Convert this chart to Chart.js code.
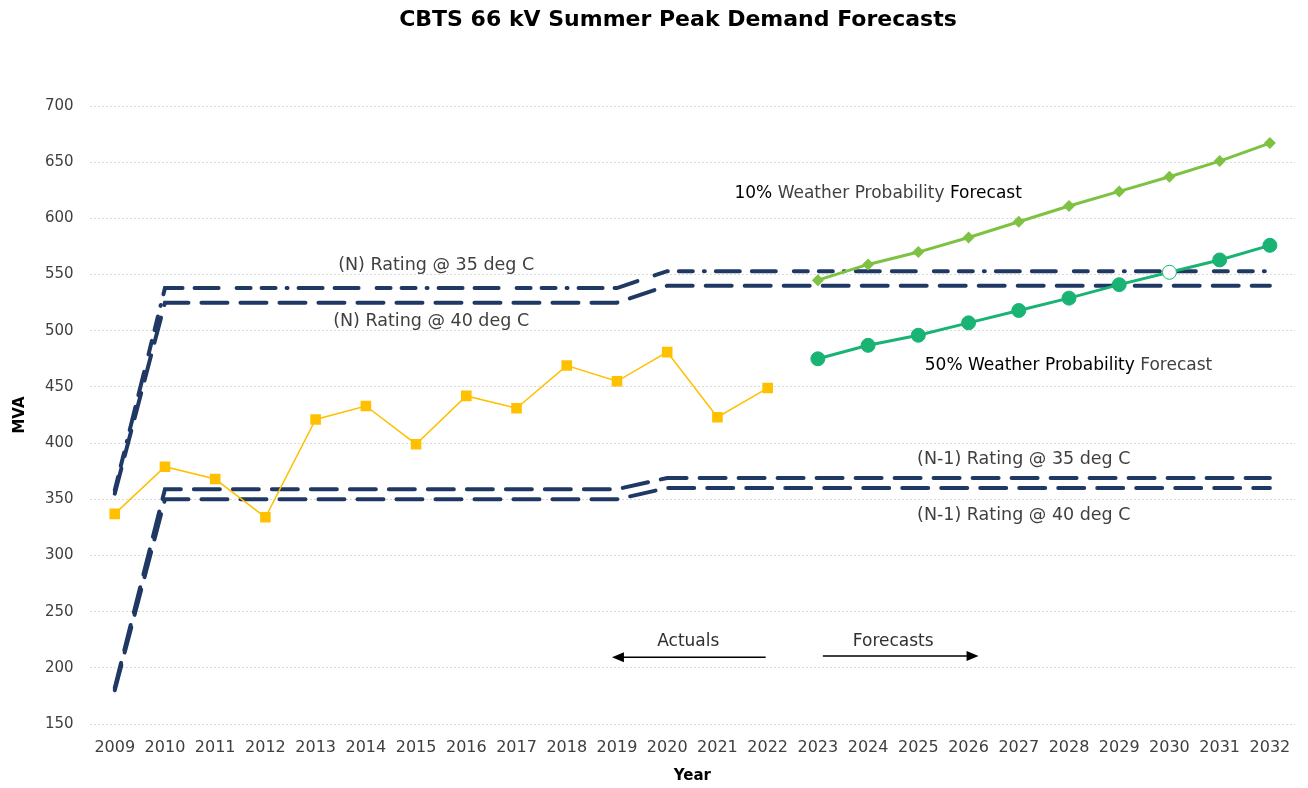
<!DOCTYPE html>
<html>
<head>
<meta charset="utf-8">
<script src="https://cdn.jsdelivr.net/npm/chart.js@4.4.1/dist/chart.umd.min.js"></script>
<style>
  html, body { margin: 0; padding: 0; background: #fff; }
  #wrap { width: 1308px; height: 788px; }
</style>
</head>
<body>
<div id="wrap"><canvas id="demandChart"></canvas></div>
<script>
const years = ['2009','2010','2011','2012','2013','2014','2015','2016','2017','2018','2019','2020',
  '2021','2022','2023','2024','2025','2026','2027','2028','2029','2030','2031','2032'];

// ratings (MVA)
const ratingN35 = [358,538,538,538,538,538,538,538,538,538,538,553,553,553,553,553,553,553,553,553,553,553,553,553];
const ratingN40 = [355,525,525,525,525,525,525,525,525,525,525,540,540,540,540,540,540,540,540,540,540,540,540,540];
const ratingN1_35 = [182,359,359,359,359,359,359,359,359,359,359,369,369,369,369,369,369,369,369,369,369,369,369,369];
const ratingN1_40 = [180,350,350,350,350,350,350,350,350,350,350,360,360,360,360,360,360,360,360,360,360,360,360,360];

// actual peak demand 2009-2022
const actuals = [337,379,368,334,421,433,399,442,431,469,455,481,423,449,
  null,null,null,null,null,null,null,null,null,null];

// forecasts 2023-2032
const poe10 = [null,null,null,null,null,null,null,null,null,null,null,null,null,null,
  545,559,570,583,597,611,624,637,651,667];
const poe50 = [null,null,null,null,null,null,null,null,null,null,null,null,null,null,
  475,487,496,507,518,529,541,552,563,576];

const yTicks = [150,200,250,300,350,400,450,500,550,600,650,700];

const navy = '#203864';
const FONT = '"DejaVu Sans", sans-serif';
const TITLE = 'CBTS 66 kV Summer Peak Demand Forecasts';

// text labels + arrows placed in data coordinates (x = category index)
const notes = [
  { x: 6.4, y: 558, size: 17.5, parts: [['(N) Rating @ 35 deg C', '#404040']] },
  { x: 6.3, y: 508, size: 17.5, parts: [['(N) Rating @ 40 deg C', '#404040']] },
  { x: 15.2, y: 622, size: 17, parts: [['10%', '#000'], [' Weather Probability ', '#404040'], ['Forecast', '#000']] },
  { x: 18.99, y: 469, size: 17, parts: [['50% Weather Probability', '#000'], [' Forecast', '#404040']] },
  { x: 18.1, y: 385, size: 17.5, parts: [['(N-1) Rating @ 35 deg C', '#404040']] },
  { x: 18.1, y: 336, size: 17.5, parts: [['(N-1) Rating @ 40 deg C', '#404040']] },
  { x: 11.42, y: 223, size: 17, parts: [['Actuals', '#303030']] },
  { x: 15.5, y: 223, size: 17, parts: [['Forecasts', '#303030']] }
];
const arrows = [
  { from: 12.96, to: 9.9, y: 209.5 },
  { from: 14.1, to: 17.2, y: 210.5 }
];

const notesPlugin = {
  id: 'notes',
  afterDatasetsDraw(chart) {
    const { ctx, scales: { x, y } } = chart;
    ctx.save();
    ctx.textBaseline = 'middle';

    // chart title (sits a little right of canvas centre, like the original)
    ctx.font = 'bold 22px ' + FONT;
    ctx.fillStyle = '#000';
    ctx.textAlign = 'center';
    ctx.fillText(TITLE, 678, 20);

    notes.forEach(n => {
      ctx.font = n.size + 'px ' + FONT;
      let total = 0;
      n.parts.forEach(p => { total += ctx.measureText(p[0]).width; });
      let px = x.getPixelForValue(n.x) - total / 2;
      const py = y.getPixelForValue(n.y);
      n.parts.forEach(p => {
        ctx.fillStyle = p[1];
        ctx.textAlign = 'left';
        ctx.fillText(p[0], px, py);
        px += ctx.measureText(p[0]).width;
      });
    });
    arrows.forEach(a => {
      const x0 = x.getPixelForValue(a.from), x1 = x.getPixelForValue(a.to);
      const py = y.getPixelForValue(a.y);
      const dir = Math.sign(x1 - x0);
      ctx.strokeStyle = '#000';
      ctx.fillStyle = '#000';
      ctx.lineWidth = 1.5;
      ctx.beginPath();
      ctx.moveTo(x0, py);
      ctx.lineTo(x1 - dir * 8, py);
      ctx.stroke();
      ctx.beginPath();
      ctx.moveTo(x1, py);
      ctx.lineTo(x1 - dir * 12, py - 5);
      ctx.lineTo(x1 - dir * 12, py + 5);
      ctx.closePath();
      ctx.fill();
    });
    ctx.restore();
  }
};

function ratingSet(label, data, dash) {
  return {
    label: label,
    data: data,
    borderColor: navy,
    backgroundColor: navy,
    borderWidth: 4,
    borderDash: dash,
    borderCapStyle: 'round',
    pointRadius: 0,
    tension: 0,
    order: 5
  };
}

const poe50Fill = poe50.map((v, i) => years[i] === '2030' ? '#ffffff' : '#19b373');

new Chart(document.getElementById('demandChart').getContext('2d'), {
  type: 'line',
  data: {
    labels: years,
    datasets: [
      ratingSet('(N) Rating @ 35 deg C', ratingN35, [14, 11, 14, 11, 1, 11, 24, 12, 24, 18]),
      ratingSet('(N) Rating @ 40 deg C', ratingN40, [26, 13]),
      ratingSet('(N-1) Rating @ 35 deg C', ratingN1_35, [26, 13]),
      ratingSet('(N-1) Rating @ 40 deg C', ratingN1_40, [26, 13]),
      {
        label: 'Actuals',
        data: actuals,
        borderColor: '#ffc000',
        backgroundColor: '#ffc000',
        borderWidth: 1.5,
        pointStyle: 'rect',
        pointRadius: 7.5,
        pointBorderWidth: 0,
        order: 1
      },
      {
        label: '10% Weather Probability Forecast',
        data: poe10,
        borderColor: '#7dc242',
        backgroundColor: '#7dc242',
        borderWidth: 3,
        pointStyle: 'rectRot',
        pointRadius: 6,
        pointBorderWidth: 0,
        order: 2
      },
      {
        label: '50% Weather Probability Forecast',
        data: poe50,
        borderColor: '#19b373',
        backgroundColor: poe50Fill,
        pointBackgroundColor: poe50Fill,
        pointBorderColor: '#19b373',
        borderWidth: 3,
        pointRadius: 7,
        pointBorderWidth: 1,
        order: 3
      }
    ]
  },
  options: {
    responsive: true,
    maintainAspectRatio: false,
    animation: false,
    layout: { padding: { left: 7, right: 13, top: 106, bottom: 0 } },
    plugins: {
      legend: { display: false },
      tooltip: { enabled: false },
      title: { display: false }
    },
    scales: {
      x: {
        offset: true,
        afterFit(axis) { axis.height = 64; },
        grid: { display: false, drawTicks: false },
        border: { display: false },
        ticks: { color: '#404040', font: { family: FONT, size: 16 }, padding: 14, maxRotation: 0, autoSkip: false },
        title: { display: true, text: 'Year', color: '#000', font: { family: FONT, size: 15, weight: 'bold' }, padding: { top: 0, bottom: 3 } }
      },
      y: {
        min: yTicks[0],
        max: yTicks[yTicks.length - 1],
        afterBuildTicks(axis) { axis.ticks = yTicks.map(v => ({ value: v })); },
        grid: { color: '#d9d9d9', lineWidth: 1, drawTicks: false },
        border: { display: false, dash: [2, 2] },
        ticks: { color: '#404040', font: { family: FONT, size: 15 }, padding: 16 },
        title: { display: true, text: 'MVA', color: '#000', font: { family: FONT, size: 15, weight: 'bold' }, padding: { bottom: 0 } }
      }
    }
  },
  plugins: [notesPlugin]
});
</script>
</body>
</html>
